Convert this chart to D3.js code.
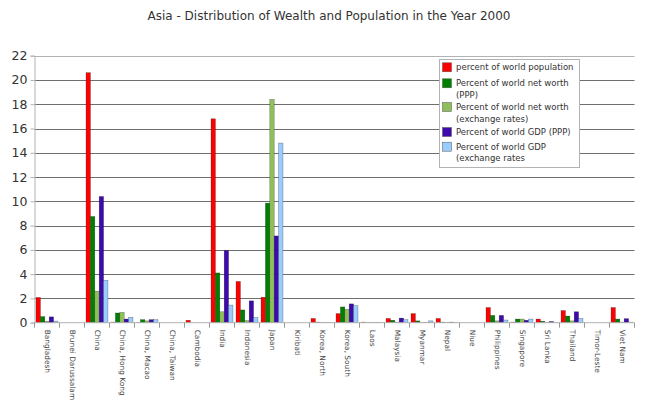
<!DOCTYPE html>
<html>
<head>
<meta charset="utf-8">
<script src="https://cdn.jsdelivr.net/npm/d3@7.9.0/dist/d3.min.js"></script>
<style>
  body { margin: 0; background: #fff; }
  text { font-family: "DejaVu Sans", sans-serif; fill: #333; }
</style>
</head>
<body>
<svg id="chart" width="660" height="410"></svg>
<script>
// Countries along the x axis
const countries = ["Bangladesh", "Brunei Darussalam", "China", "China, Hong Kong", "China, Macao",
  "China, Taiwan", "Cambodia", "India", "Indonesia", "Japan", "Kiribati", "Korea, North",
  "Korea, South", "Laos", "Malaysia", "Myanmar", "Nepal", "Niue", "Philippines", "Singapore",
  "Sri Lanka", "Thailand", "Timor-Leste", "Viet Nam"];

// Series values, one per country (percent)
const population   = [2.08, 0, 20.6, 0.05, 0.02, 0, 0.2, 16.8, 3.4, 2.1, 0, 0.35, 0.75, 0.05, 0.35, 0.75, 0.35, 0, 1.25, 0.05, 0.3, 1.0, 0, 1.25];
const netWorthPPP  = [0.5, 0, 8.75, 0.8, 0.25, 0, 0, 4.1, 1.05, 9.85, 0, 0.05, 1.3, 0.02, 0.2, 0.15, 0.05, 0, 0.6, 0.3, 0.12, 0.55, 0, 0.3];
const netWorthFX   = [0.12, 0, 2.6, 0.85, 0.15, 0, 0, 0.9, 0.17, 18.4, 0, 0.02, 1.1, 0.02, 0.05, 0.02, 0.02, 0, 0.15, 0.3, 0.02, 0.15, 0, 0.05];
const gdpPPP       = [0.48, 0, 10.4, 0.3, 0.25, 0, 0, 5.95, 1.8, 7.15, 0, 0.02, 1.55, 0.02, 0.38, 0.02, 0.05, 0, 0.6, 0.2, 0.1, 0.9, 0, 0.33];
const gdpFX        = [0.13, 0, 3.5, 0.45, 0.25, 0, 0, 1.45, 0.42, 14.8, 0, 0.02, 1.4, 0.02, 0.25, 0.15, 0.02, 0, 0.22, 0.3, 0.02, 0.35, 0, 0.05];

const seriesNames = ["percent of world population", "Percent of world net worth\n(PPP)",
  "Percent of world net worth\n(exchange rates)", "Percent of world GDP (PPP)",
  "Percent of world GDP\n(exchange rates"];
const seriesColors = ["#ff0000", "#008000", "#8fbf5a", "#3d0aad", "#99ccff"];
const seriesValues = [population, netWorthPPP, netWorthFX, gdpPPP, gdpFX];
const yTicks = d3.range(0, 23, 2);

const svg = d3.select("#chart");
const plotLeft = 34.5, plotRight = 634.5, plotTop = 55.7, plotBottom = 322.7;

const x = d3.scaleBand().domain(countries).range([plotLeft, plotRight]);
const xs = d3.scaleBand().domain(d3.range(seriesNames.length))
  .range([0, x.bandwidth()]).paddingOuter(0.35);
const y = d3.scaleLinear().domain([0, 22]).range([plotBottom, plotTop]);

// Title
svg.append("text")
  .attr("x", 329).attr("y", 20)
  .attr("text-anchor", "middle")
  .attr("font-size", 12)
  .text("Asia - Distribution of Wealth and Population in the Year 2000");

// Grid lines
svg.append("g").selectAll("line")
  .data(yTicks.filter(d => d > 0))
  .join("line")
  .attr("x1", plotLeft).attr("x2", plotRight)
  .attr("y1", d => Math.round(y(d)) + 0.5).attr("y2", d => Math.round(y(d)) + 0.5)
  .attr("stroke", d => d === 22 ? "#b3b3b3" : "#6e6e6e")
  .attr("stroke-width", 1);

// Y axis
const yAxis = svg.append("g")
  .attr("transform", `translate(${plotLeft},0)`)
  .call(d3.axisLeft(y).tickValues(yTicks).tickSize(4).tickPadding(3));
yAxis.selectAll("text").attr("font-size", 12.5).style("fill", "#333");
yAxis.selectAll("line, path").attr("stroke", "#b3b3b3");

// Bars
const groups = svg.append("g").selectAll("g")
  .data(countries)
  .join("g")
  .attr("transform", d => `translate(${x(d)},0)`);

groups.selectAll("rect")
  .data((c, i) => seriesValues.map((vals, s) => ({ s, v: vals[i] })).filter(d => d.v > 0))
  .join("rect")
  .attr("x", d => xs(d.s))
  .attr("width", xs.bandwidth())
  .attr("y", d => y(d.v))
  .attr("height", d => y(0) - y(d.v))
  .attr("fill", d => seriesColors[d.s])
  .attr("stroke", "#000")
  .attr("stroke-opacity", 0.45)
  .attr("stroke-width", 0.5);

// X axis
const xAxis = svg.append("g")
  .attr("transform", `translate(0,${plotBottom})`);
xAxis.append("line")
  .attr("x1", plotLeft).attr("x2", plotRight)
  .attr("stroke", "#b3b3b3");
xAxis.selectAll(".tick")
  .data(d3.range(countries.length + 1))
  .join("line")
  .attr("x1", i => plotLeft + i * x.step()).attr("x2", i => plotLeft + i * x.step())
  .attr("y1", 0).attr("y2", 5)
  .attr("stroke", "#999");
xAxis.selectAll(".lbl")
  .data(countries)
  .join("text")
  .attr("transform", d => `translate(${x(d) + x.bandwidth() / 2 - 2.5},7) rotate(90)`)
  .attr("font-size", 7.4)
  .style("fill", "#444")
  .text(d => d);

// Legend
const legend = svg.append("g");
legend.append("rect")
  .attr("x", 439.5).attr("y", 59.5)
  .attr("width", 140).attr("height", 108)
  .attr("fill", "#fff").attr("stroke", "#b3b3b3");

const legendRows = [67.3, 83.3, 107, 132, 146.7];
seriesNames.forEach((name, s) => {
  const cy = legendRows[s];
  legend.append("rect")
    .attr("x", 442.5).attr("y", cy - 4.5)
    .attr("width", 9).attr("height", 9)
    .attr("fill", seriesColors[s])
    .attr("stroke", "#555").attr("stroke-width", 0.5);
  name.split("\n").forEach((line, k) => {
    legend.append("text")
      .attr("x", 456).attr("y", cy + 3 + k * 11.5)
      .attr("font-size", 8.5)
      .text(line);
  });
});
</script>
</body>
</html>
